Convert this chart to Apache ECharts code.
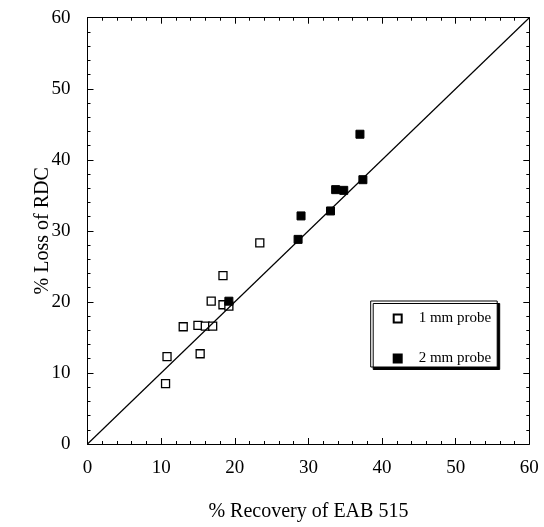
<!DOCTYPE html>
<html>
<head>
<meta charset="utf-8">
<script src="https://cdn.jsdelivr.net/npm/echarts@6/dist/echarts.min.js"></script>
<style>html,body{margin:0;padding:0;background:#fff;}#c{width:544px;height:527px;}</style>
</head>
<body>
<div id="c"></div>
<script>
// 1 mm probe: [x = % Recovery of EAB 515, y = % Loss of RDC]
const probe1mm = [
  [10.6, 8.5], [10.8, 12.3], [13.0, 16.5], [15.0, 16.7], [15.3, 12.7],
  [16.0, 16.6], [17.0, 16.6], [16.8, 20.1], [18.4, 19.6], [19.2, 19.4],
  [18.4, 23.7], [23.4, 28.3]
];
// 2 mm probe
const probe2mm = [
  [19.2, 20.1], [28.6, 28.8], [29.0, 32.1], [33.0, 32.8], [33.7, 35.8],
  [34.8, 35.7], [37.4, 37.2], [37.0, 43.6]
];
// identity line
const identityLine = [[0, 0], [60, 60]];
const tickValues = [0, 10, 20, 30, 40, 50, 60];
const xTitle = '% Recovery of EAB 515';
const yTitle = '% Loss of RDC';
const seriesNames = ['1 mm probe', '2 mm probe'];

const font = 'Liberation Serif, Times New Roman, serif';
const axisMin = tickValues[0], axisMax = tickValues[tickValues.length - 1];
const axisInterval = tickValues[1] - tickValues[0];

function baseAxis(extra) {
  return Object.assign({
    type: 'value', min: axisMin, max: axisMax, interval: axisInterval,
    axisLine: { show: true, onZero: false, lineStyle: { color: '#000', width: 1 } },
    axisTick: { show: true, inside: true, length: 6, lineStyle: { color: '#000', width: 1 } },
    minorTick: { show: true, splitNumber: 5, length: 3, lineStyle: { color: '#000', width: 1 } },
    splitLine: { show: false },
    axisLabel: { show: true, color: '#000', fontFamily: font, fontSize: 18 }
  }, extra);
}

const chart = echarts.init(document.getElementById('c'), null, { renderer: 'canvas' });
chart.setOption({
  animation: false,
  backgroundColor: '#fff',
  grid: { left: 87.5, top: 17.7, right: 14.7, bottom: 81.5, containLabel: false },
  xAxis: [
    baseAxis({ position: 'bottom', name: xTitle, nameLocation: 'middle', nameGap: 58,
      nameMoveOverlap: false,
      nameTextStyle: { color: '#000', fontFamily: font, fontSize: 20 },
      axisLabel: { color: '#000', fontFamily: font, fontSize: 19, margin: 15 } }),
    baseAxis({ position: 'top', axisLabel: { show: false } })
  ],
  yAxis: [
    baseAxis({ position: 'left', name: yTitle, nameLocation: 'middle', nameGap: 35,
      nameMoveOverlap: false,
      nameTextStyle: { color: '#000', fontFamily: font, fontSize: 20 },
      axisLabel: { color: '#000', fontFamily: font, fontSize: 19, margin: 17 } }),
    baseAxis({ position: 'right', axisLabel: { show: false } })
  ],
  legend: {
    orient: 'vertical', left: 370.7, top: 301,
    padding: [10, 6, 1, 22],
    itemGap: 25,
    itemWidth: 8, itemHeight: 8,
    backgroundColor: '#fff', borderColor: '#000', borderWidth: 1,
    shadowColor: '#000', shadowBlur: 0, shadowOffsetX: 2.5, shadowOffsetY: 2.5,
    textStyle: { color: '#000', fontFamily: font, fontSize: 15, lineHeight: 14, padding: [0, 0, 0, 12] },
    data: seriesNames
  },
  series: [
    { type: 'line', data: identityLine, showSymbol: false, symbol: 'none',
      lineStyle: { color: '#000', width: 1.2 }, silent: true },
    { name: seriesNames[0], type: 'scatter', data: probe1mm, symbol: 'rect', symbolSize: 8,
      itemStyle: { color: '#fff', borderColor: '#000', borderWidth: 1.3, opacity: 1 } },
    { name: seriesNames[1], type: 'scatter', data: probe2mm, symbol: 'rect', symbolSize: 8,
      itemStyle: { color: '#000', borderColor: '#000', borderWidth: 1, opacity: 1 } }
  ]
});
</script>
</body>
</html>
